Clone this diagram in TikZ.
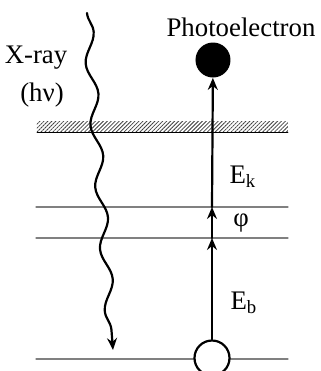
\documentclass[tikz,border=0pt]{standalone}
\usepackage{fontspec}
\setmainfont{Liberation Serif}
\usepackage{tikz}
\usetikzlibrary{arrows.meta,patterns.meta,decorations.pathmorphing}

\tikzset{
  level/.style={gray, line width=0.55pt},
  jump/.style={line width=1.1pt, -{Stealth[length=6pt, width=5pt, inset=2pt]}},
  lbl/.style={font=\fontsize{13.4}{15}\selectfont, inner sep=0pt},
}

\begin{document}
\begin{tikzpicture}[x=0.5pt, y=-0.5pt, line cap=round, line join=round]
\useasboundingbox (0,0) rectangle (321,371);

% energy levels
\fill[pattern={Lines[angle=45, distance=1.4pt, line width=0.4pt]}, pattern color=black!75] (37,121) rectangle (288,131);
\draw[line width=0.45pt] (37,132) -- (288,132);
\draw[level] (36,207) -- (288,207);
\draw[level] (36,238) -- (288,238);
\draw[level] (36,359) -- (288,359);

% electrons
\node[circle, fill=black, inner sep=0pt, minimum size=17.5pt] (photo) at (213,60) {};
\node[circle, draw=black, fill=white, line width=1.1pt, inner sep=0pt, minimum size=17.5pt] (core) at (212,358) {};
\coordinate (fermi) at (212,238);
\coordinate (vac) at (212,207);
\draw[jump] (core) -- (fermi);
\draw[jump] (fermi) -- (vac);
\draw[jump] (vac) -- (photo);

% x-ray
\coordinate (xin) at (87,13);
\coordinate (xout) at (113,350);
\draw[line width=1.1pt, -{Stealth[length=6pt, width=5pt, inset=2pt]},
  decorate, decoration={snake, amplitude=2.6pt, segment length=31pt, post length=5pt}] (xin) -- (xout);

% labels
\node[lbl] (title) at (241,27) {Photoelectron};
\node[lbl] (xray) at (36,58) {X-ray};
\node[lbl] (hnu) at (42,95) {(hν)};
\node[lbl] (ek) at (243,177) {E\textsubscript{k}};
\node[lbl] (phi) at (241,223) {φ};
\node[lbl] (eb) at (244,303) {E\textsubscript{b}};
\end{tikzpicture}
\end{document}
